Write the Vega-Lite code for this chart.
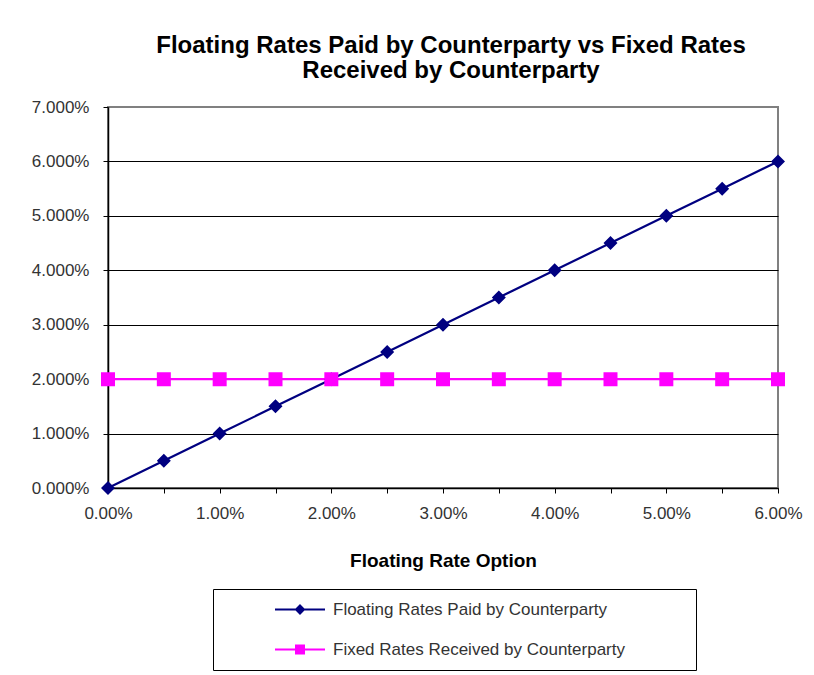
{
  "$schema": "https://vega.github.io/schema/vega-lite/v6.json",
  "width": 670,
  "height": 381,
  "autosize": {"type": "none"},
  "padding": {"left": 108, "top": 107, "right": 36, "bottom": 187},
  "background": "white",
  "config": {
    "font": "Liberation Sans",
    "view": {"stroke": "#808080", "strokeWidth": 2}
  },
  "title": {
    "text": ["Floating Rates Paid by Counterparty vs Fixed Rates", "Received by Counterparty"],
    "fontSize": 24,
    "fontWeight": "bold",
    "color": "#000000",
    "lineHeight": 25,
    "anchor": "middle",
    "dx": 8,
    "offset": 15
  },
  "data": {
    "values": [
      {"x": 0.000, "y": 0.000, "series": "Floating Rates Paid by Counterparty"},
      {"x": 0.005, "y": 0.005, "series": "Floating Rates Paid by Counterparty"},
      {"x": 0.010, "y": 0.010, "series": "Floating Rates Paid by Counterparty"},
      {"x": 0.015, "y": 0.015, "series": "Floating Rates Paid by Counterparty"},
      {"x": 0.020, "y": 0.020, "series": "Floating Rates Paid by Counterparty"},
      {"x": 0.025, "y": 0.025, "series": "Floating Rates Paid by Counterparty"},
      {"x": 0.030, "y": 0.030, "series": "Floating Rates Paid by Counterparty"},
      {"x": 0.035, "y": 0.035, "series": "Floating Rates Paid by Counterparty"},
      {"x": 0.040, "y": 0.040, "series": "Floating Rates Paid by Counterparty"},
      {"x": 0.045, "y": 0.045, "series": "Floating Rates Paid by Counterparty"},
      {"x": 0.050, "y": 0.050, "series": "Floating Rates Paid by Counterparty"},
      {"x": 0.055, "y": 0.055, "series": "Floating Rates Paid by Counterparty"},
      {"x": 0.060, "y": 0.060, "series": "Floating Rates Paid by Counterparty"},
      {"x": 0.000, "y": 0.02, "series": "Fixed Rates Received by Counterparty"},
      {"x": 0.005, "y": 0.02, "series": "Fixed Rates Received by Counterparty"},
      {"x": 0.010, "y": 0.02, "series": "Fixed Rates Received by Counterparty"},
      {"x": 0.015, "y": 0.02, "series": "Fixed Rates Received by Counterparty"},
      {"x": 0.020, "y": 0.02, "series": "Fixed Rates Received by Counterparty"},
      {"x": 0.025, "y": 0.02, "series": "Fixed Rates Received by Counterparty"},
      {"x": 0.030, "y": 0.02, "series": "Fixed Rates Received by Counterparty"},
      {"x": 0.035, "y": 0.02, "series": "Fixed Rates Received by Counterparty"},
      {"x": 0.040, "y": 0.02, "series": "Fixed Rates Received by Counterparty"},
      {"x": 0.045, "y": 0.02, "series": "Fixed Rates Received by Counterparty"},
      {"x": 0.050, "y": 0.02, "series": "Fixed Rates Received by Counterparty"},
      {"x": 0.055, "y": 0.02, "series": "Fixed Rates Received by Counterparty"},
      {"x": 0.060, "y": 0.02, "series": "Fixed Rates Received by Counterparty"}
    ]
  },
  "encoding": {
    "x": {
      "field": "x",
      "type": "quantitative",
      "scale": {"domain": [0, 0.06], "nice": false, "zero": false},
      "axis": {
        "title": "Floating Rate Option",
        "titleFontSize": 19,
        "titleFontWeight": "bold",
        "titleColor": "#000000",
        "titlePadding": 30,
        "values": [0, 0.005, 0.01, 0.015, 0.02, 0.025, 0.03, 0.035, 0.04, 0.045, 0.05, 0.055, 0.06],
        "labelExpr": "abs(datum.value*100 - round(datum.value*100)) < 0.001 ? format(datum.value, '.2%') : ''",
        "labelFontSize": 17,
        "labelColor": "#333333",
        "labelPadding": 12,
        "labelOverlap": false,
        "labelFlush": false,
        "tickSize": 5,
        "tickColor": "#000000",
        "domainColor": "#000000",
        "domainWidth": 1.5,
        "grid": false
      }
    },
    "y": {
      "field": "y",
      "type": "quantitative",
      "scale": {"domain": [0, 0.07], "nice": false},
      "axis": {
        "title": null,
        "values": [0, 0.01, 0.02, 0.03, 0.04, 0.05, 0.06, 0.07],
        "format": ".3%",
        "labelFontSize": 17,
        "labelColor": "#333333",
        "labelPadding": 14,
        "labelFlush": false,
        "tickSize": 5,
        "tickColor": "#000000",
        "domainColor": "#000000",
        "domainWidth": 1.5,
        "grid": true,
        "gridColor": {"condition": {"test": "datum.value >= 0.0699", "value": "#808080"}, "value": "#000000"},
        "gridWidth": 1,
        "gridOpacity": 1
      }
    },
    "color": {
      "field": "series",
      "type": "nominal",
      "scale": {
        "domain": ["Floating Rates Paid by Counterparty", "Fixed Rates Received by Counterparty"],
        "range": ["#000080", "#FF00FF"]
      },
      "legend": {
        "title": null,
        "orient": "none",
        "legendX": 105,
        "legendY": 482,
        "direction": "vertical",
        "padding": 12,
        "strokeColor": "#000000",
        "fillColor": "#FFFFFF",
        "symbolSize": 100,
        "symbolStrokeWidth": 2,
        "symbolOffset": 66.5,
        "labelOffset": 24.5,
        "rowPadding": 22,
        "labelFontSize": 17,
        "labelColor": "#333333",
        "labelLimit": 0
      }
    }
  },
  "layer": [
    {
      "mark": {"type": "line", "strokeWidth": 2.2}
    },
    {
      "mark": {"type": "point", "filled": true, "opacity": 1, "size": 306},
      "encoding": {
        "shape": {
          "field": "series",
          "type": "nominal",
          "scale": {
            "domain": ["Floating Rates Paid by Counterparty", "Fixed Rates Received by Counterparty"],
            "range": ["M-5,0H5M0,-0.8L0.8,0L0,0.8L-0.8,0ZM76,0", "M-5,0H5M-0.8,-0.8H0.8V0.8H-0.8ZM76,0"]
          },
          "legend": null
        }
      }
    }
  ]
}
